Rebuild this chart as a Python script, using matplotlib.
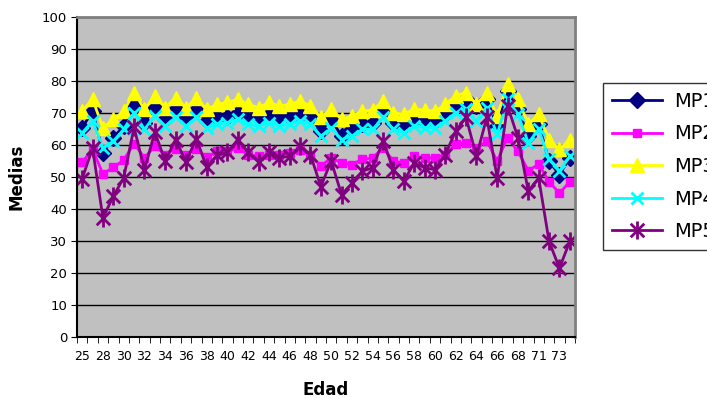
import numpy as np
import matplotlib
matplotlib.use('Agg')
import matplotlib.pyplot as plt
from matplotlib.path import Path

# categorias (edad) y medias por serie
edades = [25, 27, 28, 29, 30, 31, 32, 33, 34, 35, 36, 37, 38, 39, 40, 41, 42, 43,
          44, 45, 46, 47, 48, 49, 50, 51, 52, 53, 54, 55, 56, 57, 58, 59, 60, 61,
          62, 63, 64, 65, 66, 67, 68, 70, 71, 72, 73, 74]

mp1 = [65.4, 70.6, 57.5, 62.3, 65.9, 72.7, 67.0, 71.7, 68.0, 71.2, 68.6, 71.0,
       67.5, 68.6, 68.8, 70.1, 69.1, 68.3, 69.3, 68.8, 68.8, 69.6, 68.6, 64.4,
       68.0, 62.8, 64.9, 66.5, 67.0, 70.9, 67.0, 65.9, 68.0, 67.5, 67.5, 69.6,
       72.2, 74.3, 72.2, 74.3, 65.9, 76.9, 71.2, 62.8, 66.5, 54.9, 50.7, 56.0]

mp2 = [54.7, 58.5, 51.0, 53.0, 55.3, 60.4, 56.0, 59.6, 57.0, 58.9, 57.0, 58.9,
       56.2, 58.0, 58.0, 59.1, 57.0, 56.5, 57.0, 57.0, 57.5, 58.5, 57.0, 53.4,
       56.0, 54.4, 53.9, 55.5, 56.0, 59.1, 55.0, 54.4, 56.5, 56.0, 56.0, 57.0,
       60.2, 60.7, 59.1, 61.2, 55.0, 62.3, 58.0, 52.0, 54.0, 48.5, 45.0, 48.5]

mp3 = [70.6, 74.3, 65.4, 68.0, 70.6, 76.4, 71.2, 75.4, 71.7, 74.8, 71.7, 74.6,
       71.2, 72.7, 73.3, 74.3, 72.7, 71.7, 73.3, 72.2, 72.7, 73.8, 72.2, 68.6,
       71.2, 68.0, 69.0, 70.6, 70.9, 73.8, 70.1, 69.6, 71.2, 70.9, 70.6, 72.7,
       75.4, 76.4, 72.7, 76.4, 69.0, 79.0, 74.3, 66.5, 69.6, 61.7, 58.6, 61.7]

mp4 = [63.8, 67.5, 59.1, 61.2, 64.9, 70.1, 64.9, 69.1, 65.9, 68.6, 65.9, 68.6,
       65.4, 66.5, 67.0, 68.0, 66.5, 65.9, 67.0, 65.9, 66.5, 67.5, 66.5, 62.8,
       65.2, 61.7, 62.8, 64.9, 64.9, 68.6, 64.9, 63.8, 65.9, 65.4, 65.4, 67.5,
       70.1, 71.2, 67.5, 71.7, 63.3, 74.3, 69.6, 60.7, 64.9, 55.5, 51.8, 56.5]

mp5 = [49.5, 59.0, 37.2, 44.0, 49.7, 65.5, 52.3, 64.0, 55.0, 61.7, 54.7, 62.0,
       53.0, 56.8, 57.7, 61.7, 57.7, 54.7, 57.7, 56.0, 56.5, 59.6, 57.0, 47.0,
       55.0, 44.5, 48.0, 51.8, 52.9, 61.2, 52.3, 48.7, 54.4, 52.9, 52.3, 57.0,
       64.4, 68.6, 56.5, 68.6, 49.7, 72.2, 62.3, 45.6, 49.7, 29.9, 21.5, 29.9]

series = ['MP1', 'MP2', 'MP3', 'MP4', 'MP5']

# asterisco estilo excel: x + linea vertical
star = Path([(0, -1), (0, 1), (-0.75, -0.75), (0.75, 0.75), (-0.75, 0.75), (0.75, -0.75)],
            [Path.MOVETO, Path.LINETO] * 3)

estilos = [
    dict(color='#000080', marker='D', ms=8.5, mec='#000080', mfc='#000080'),
    dict(color='#FF00FF', marker='s', ms=6, mec='#FF00FF', mfc='#FF00FF'),
    dict(color='#FFFF00', marker='^', ms=10, mec='#FFFF00', mfc='#FFFF00'),
    dict(color='#00FFFF', marker='x', ms=8, mew=2, mec='#00FFFF'),
    dict(color='#800080', marker=star, ms=13, mew=2, mec='#800080', mfc='none'),
]

fig = plt.figure(figsize=(7.07, 3.98), dpi=100)
ax = fig.add_axes([77 / 707, 61 / 398, 498 / 707, 320 / 398])
ax.set_facecolor('#C0C0C0')

x = np.arange(len(edades))
for nombre, vals, st in zip(series, [mp1, mp2, mp3, mp4, mp5], estilos):
    ax.plot(x, vals, lw=2, label=nombre, **st)

ax.set_xlim(-0.5, len(edades) - 0.5)
ax.set_ylim(0, 100)
ax.set_yticks(np.arange(0, 101, 10))
ax.yaxis.grid(True, color='black', lw=1)
ax.set_axisbelow(True)

ax.set_xticks(x[::2])
ax.set_xticklabels([str(e) for e in edades[::2]], fontsize=9)
ax.set_xticks(np.arange(-0.5, len(edades), 1), minor=True)
ax.tick_params(axis='x', which='major', length=0, pad=9)
ax.tick_params(axis='x', which='minor', length=4, direction='out', color='black')
ax.tick_params(axis='y', length=4, direction='out', labelsize=9.5, pad=3)

for s in ['top', 'right']:
    ax.spines[s].set_color('#808080')
    ax.spines[s].set_linewidth(2)
ax.spines['left'].set_linewidth(1.5)
ax.spines['bottom'].set_linewidth(1.5)

ax.set_ylabel('Medias', fontsize=12, fontweight='bold', labelpad=12)
ax.set_xlabel('Edad', fontsize=12, fontweight='bold', labelpad=13)

leg = fig.legend(loc='upper left', bbox_to_anchor=(603 / 707, 1 - 83 / 398),
                 fontsize=14, frameon=True, fancybox=False, edgecolor='black',
                 handlelength=2.6, labelspacing=0.7, borderpad=0.45,
                 handletextpad=0.6, borderaxespad=0)
leg.get_frame().set_linewidth(1)

fig.savefig('out.png', dpi=100)
